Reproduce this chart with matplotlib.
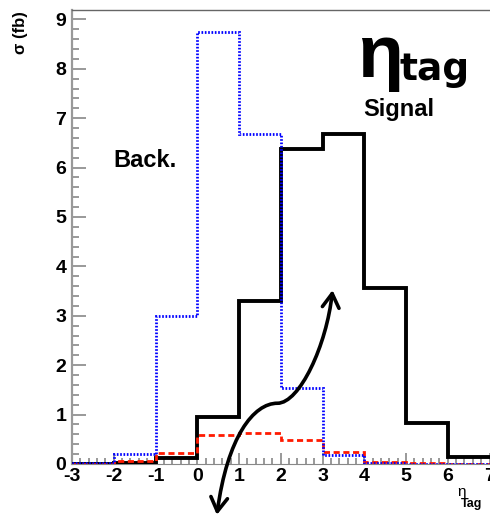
import numpy as np
import matplotlib
matplotlib.use("Agg")
import matplotlib.pyplot as plt
from matplotlib.path import Path
from matplotlib.patches import FancyArrowPatch
from matplotlib.ticker import MultipleLocator

plt.rcParams['font.family'] = ['Liberation Sans', 'DejaVu Sans']
plt.rcParams['axes.unicode_minus'] = False

# eta_tag binning and cross sections (fb)
edges = [-3, -2, -1, 0, 1, 2, 3, 4, 5, 6, 7]
signal = [0.01, 0.02, 0.13, 0.96, 3.29, 6.37, 6.67, 3.56, 0.84, 0.14]
background = [0.03, 0.20, 3.00, 8.74, 6.68, 1.54, 0.18, 0.03, 0.01, 0.01]
background_2 = [0.0, 0.06, 0.23, 0.58, 0.63, 0.49, 0.25, 0.05, 0.02, 0.01]

# two-headed guide arrow (data coords, cubic bezier)
arrow_verts = [(0.47, -1.03), (0.72, 0.55), (1.35, 1.23), (1.92, 1.23),
               (2.45, 1.23), (3.1, 2.4), (3.24, 3.52)]
arrow_codes = [Path.MOVETO] + [Path.CURVE4] * 6

fig = plt.figure(figsize=(4.9, 5.16), dpi=100)
ax = fig.add_axes([72 / 490, 52 / 516, 417.5 / 490, 454 / 516])

ax.stairs(signal, edges, color='black', lw=2.8, baseline=None, zorder=3)
ax.stairs(background_2, edges, color='#ff1a00', lw=2.0, ls=(0, (2.2, 1.3)),
          baseline=None, zorder=4)
ax.stairs(background, edges, color='#0000ff', lw=2.0, ls=(0, (0.6, 0.6)),
          baseline=None, zorder=5)

ax.set_xlim(-3, 7)
ax.set_ylim(0, 9.19)

ax.xaxis.set_major_locator(MultipleLocator(1))
ax.xaxis.set_minor_locator(MultipleLocator(0.2))
ax.yaxis.set_major_locator(MultipleLocator(1))
ax.yaxis.set_minor_locator(MultipleLocator(0.2))
ax.tick_params(axis='both', which='both', direction='in', color='#888888',
               width=1.2, labelsize=14)
ax.tick_params(axis='y', which='major', length=10, pad=4)
ax.tick_params(axis='y', which='minor', length=5)
ax.tick_params(axis='x', which='major', length=8, pad=3)
ax.tick_params(axis='x', which='minor', length=4)
for lab in ax.get_xticklabels() + ax.get_yticklabels():
    lab.set_fontweight('bold')

ax.spines['left'].set_color('#999999')
ax.spines['left'].set_linewidth(1.6)
ax.spines['top'].set_color('#666666')
ax.spines['top'].set_linewidth(1.0)
ax.spines['bottom'].set_color('#888888')
ax.spines['right'].set_visible(False)

# labels inside the frame
ax.text(-1.25, 6.15, 'Back.', fontsize=17, fontweight='bold',
        ha='center', va='center')
ax.text(4.82, 7.17, 'Signal', fontsize=17, fontweight='bold',
        ha='center', va='center')
ax.text(3.83, 7.84, 'η', fontsize=54, fontweight='bold',
        ha='left', va='baseline')
ax.text(4.84, 7.77, 'tag', fontsize=27, fontweight='bold',
        ha='left', va='baseline', family=['DejaVu Sans'])

fig.text(20 / 490, 1 - 33 / 516, 'σ (fb)', rotation=90, fontsize=12,
         fontweight='bold', ha='center', va='center')
fig.text(457 / 490, 1 - 496 / 516, 'η', fontsize=11, ha='left',
         va='baseline')
fig.text(461 / 490, 1 - 507 / 516, 'Tag', fontsize=9, fontweight='bold',
         ha='left', va='baseline')

arrow = FancyArrowPatch(path=Path(arrow_verts, arrow_codes),
                        arrowstyle='<->,head_length=10,head_width=6',
                        color='black', lw=2.6, clip_on=False, zorder=6)
ax.add_patch(arrow)

fig.savefig('out.png', dpi=100)
